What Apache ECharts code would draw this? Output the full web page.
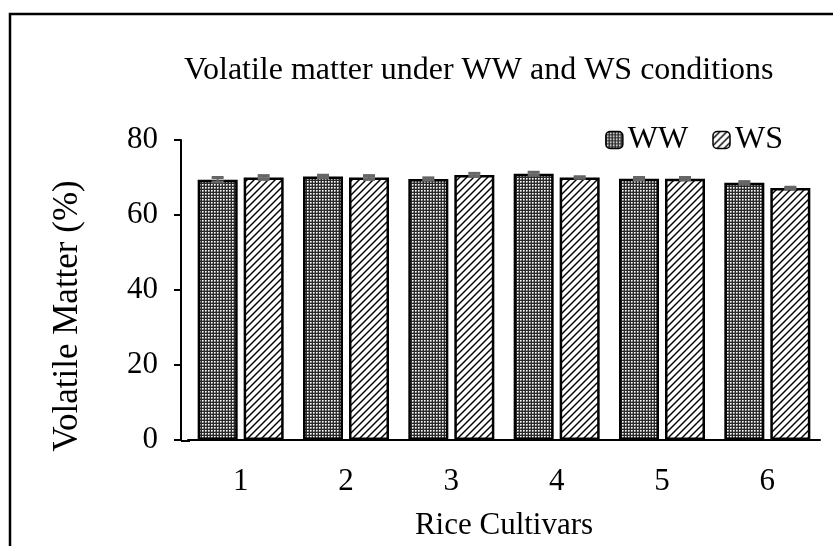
<!DOCTYPE html>
<html><head><meta charset="utf-8">
<script src="https://cdn.jsdelivr.net/npm/echarts@6/dist/echarts.min.js"></script>
<style>html,body{margin:0;padding:0;background:#fff}#c{width:833px;height:546px}</style>
</head><body><div id="c"></div>
<script>
var categories = ['1','2','3','4','5','6'];
var wwValues = [69.4, 70.3, 69.6, 71.0, 69.7, 68.6];
var wsValues = [70.0, 70.0, 70.7, 70.0, 69.7, 67.2];
var wwErr = [0.6, 0.3, 0.3, 0.4, 0.3, 0.3];
var wsErr = [0.5, 0.5, 0.4, 0.2, 0.3, 0.2];
var yTicks = [0, 20, 40, 60, 80];

function makeDots(){
  var c=document.createElement('canvas');c.width=3;c.height=3;
  var g=c.getContext('2d');g.fillStyle='#2a2a2a';g.fillRect(0,0,3,3);
  g.fillStyle='#ffffff';g.fillRect(1,1,1,1);
  g.fillStyle='#b0b0b0';g.fillRect(2,1,1,1);g.fillRect(1,2,1,1);
  g.fillStyle='#707070';g.fillRect(2,2,1,1);
  return c;
}
function makeHatch(){
  var c=document.createElement('canvas');c.width=7;c.height=7;
  var g=c.getContext('2d');g.fillStyle='#ffffff';g.fillRect(0,0,7,7);
  g.strokeStyle='#000';g.lineWidth=1.4;
  g.beginPath();g.moveTo(-1,8);g.lineTo(8,-1);g.stroke();
  g.beginPath();g.moveTo(-5,5);g.lineTo(5,-5);g.stroke();
  g.beginPath();g.moveTo(2,12);g.lineTo(12,2);g.stroke();
  return c;
}
var dotPat={image:makeDots(),repeat:'repeat'};
var hatchPat={image:makeHatch(),repeat:'repeat'};

var chart=echarts.init(document.getElementById('c'));
var font='"Liberation Serif","Times New Roman",serif';

function errSeries(vals, errs, idx){
  return {
    type:'custom', name:'err'+idx, z:5, silent:true,
    data: vals.map(function(v,i){return [i, v-errs[i], v+errs[i]];}),
    renderItem:function(params, api){
      var x=api.coord([api.value(0), 0])[0];
      var off=(idx===0?-1:1)*23;
      x+=off;
      var lo=api.coord([api.value(0), api.value(1)])[1];
      var hi=api.coord([api.value(0), api.value(2)])[1];
      var st={stroke:'#666',lineWidth:2};
      return {type:'group',children:[
        {type:'line',shape:{x1:x,y1:lo,x2:x,y2:hi},style:st},
        {type:'line',shape:{x1:x-6,y1:hi,x2:x+6,y2:hi},style:{stroke:'#666',lineWidth:3}},
        {type:'line',shape:{x1:x-6,y1:lo,x2:x+6,y2:lo},style:{stroke:'#666',lineWidth:3}}
      ]};
    }
  };
}

chart.setOption({
  animation:false,
  textStyle:{fontFamily:font},
  graphic:[
    {type:'rect',shape:{x:10,y:14,width:840,height:560},style:{fill:'none',stroke:'#000',lineWidth:2.5},z:-1},
    {type:'line',shape:{x1:181,y1:441,x2:190,y2:441},style:{stroke:'#000',lineWidth:2}}
  ],
  title:{text:'Volatile matter under WW and WS conditions',left:179,top:50,
    textStyle:{fontFamily:font,fontWeight:'normal',fontSize:32,color:'#000'}},
  legend:{
    data:['WW','WS'],right:45,top:119,itemWidth:17,itemHeight:17,itemGap:24,
    textStyle:{fontFamily:font,fontSize:32,color:'#000'},
    itemStyle:{borderColor:'#000',borderWidth:1.5}
  },
  grid:{left:188,right:13,top:140,bottom:105},
  xAxis:{type:'category',data:categories,
    axisLine:{lineStyle:{color:'#000',width:2}},
    axisTick:{show:false},
    axisLabel:{fontFamily:font,fontSize:31,color:'#000',margin:26},
    name:'Rice Cultivars',nameLocation:'middle',nameGap:70,
    nameTextStyle:{fontFamily:font,fontSize:31,color:'#000'}
  },
  yAxis:{type:'value',min:0,max:80,interval:20,offset:7,
    axisLine:{show:true,lineStyle:{color:'#000',width:2}},
    axisTick:{show:true,length:7,lineStyle:{color:'#000',width:2}},
    splitLine:{show:false},
    axisLabel:{fontFamily:font,fontSize:31,color:'#000',margin:23,
      formatter:function(v){return yTicks.indexOf(v)>=0?String(v):'';}},
    name:'Volatile Matter (%)',nameLocation:'middle',nameGap:96,nameRotate:90,
    nameTextStyle:{fontFamily:font,fontSize:35,color:'#000',padding:[0,0,0,-52]}
  },
  series:[
    {name:'WW',type:'bar',data:wwValues,barWidth:40,barGap:'15%',
      itemStyle:{color:dotPat,borderColor:'#000',borderWidth:2.5}},
    {name:'WS',type:'bar',data:wsValues,barWidth:40,
      itemStyle:{color:hatchPat,borderColor:'#000',borderWidth:2.5}},
    errSeries(wwValues,wwErr,0),
    errSeries(wsValues,wsErr,1)
  ]
});
</script></body></html>
